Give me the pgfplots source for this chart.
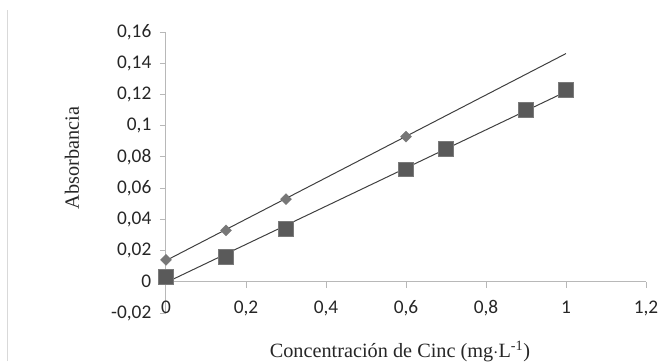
\documentclass[border=0pt]{standalone}
\usepackage{fontspec}
\setmainfont{Liberation Serif}
\newfontfamily\carlito{Carlito}
\usepackage{pgfplots}
\pgfplotsset{compat=1.18}
\definecolor{axgray}{HTML}{B8B8B8}
\definecolor{sqfill}{HTML}{5A5A5A}
\definecolor{sqdraw}{HTML}{7A7A7A}
\definecolor{dmfill}{HTML}{777777}
\definecolor{trend}{HTML}{404040}
\newcommand\tickfont{\fontsize{14.5pt}{17pt}\selectfont\carlito}
\begin{document}
\begin{tikzpicture}
\path[use as bounding box] (-124.5pt,-36pt) rectangle (370.5pt,234.75pt);
\draw[color=black!15, line width=0.75pt] (-118.5pt,-36pt) -- (-118.5pt,227pt);
\begin{axis}[
  scale only axis,
  width=360pt, height=210.75pt,
  xmin=0, xmax=1.2, ymin=-0.02, ymax=0.16,
  axis x line=middle, axis y line=left,
  hide obscured x ticks=false,
  hide obscured y ticks=false,
  axis line style={axgray, line width=0.75pt, -},
  xtick={0,0.2,0.4,0.6,0.8,1,1.2},
  ytick={-0.02,0,0.02,0.04,0.06,0.08,0.1,0.12,0.14,0.16},
  tick style={axgray, line width=0.75pt},
  major tick length=4.5pt,
  tick align=outside,
  minor tick num=0,
  /pgf/number format/assume math mode=true,
  /pgf/number format/use comma,
  /pgf/number format/fixed,
  /pgf/number format/precision=2,
  xticklabel={\tickfont\pgfmathprintnumber{\tick}},
  yticklabel={\tickfont\pgfmathprintnumber{\tick}},
  every tick label/.append style={text=black!85},
  yticklabel style={anchor=east, xshift=-3pt},
  xticklabel style={anchor=base, yshift=-19pt},
  xlabel={Concentración de Cinc (mg$\cdot$L\textsuperscript{-1})},
  ylabel={Absorbancia},
  label style={font=\fontsize{15.2pt}{18pt}\selectfont, text=black!85},
  xlabel style={at={(axis description cs:0.4875,-0.1566)}, anchor=base},
  ylabel style={at={(axis description cs:-0.196,0.552)}, anchor=center, rotate=0},
  clip=false,
]
\addplot[only marks, mark=square*, mark size=2.9pt, mark options={rotate=45, fill=dmfill, draw=dmfill, line width=0.3pt}]
  coordinates {(0,0.014) (0.15,0.033) (0.3,0.053) (0.6,0.093)};
\addplot[only marks, mark=square*, mark size=5.4pt, mark options={fill=sqfill, draw=sqdraw, line width=0.6pt}]
  coordinates {(0,0.003) (0.15,0.016) (0.3,0.034) (0.6,0.072) (0.7,0.085) (0.9,0.110) (1,0.123)};
\addplot[trend, line width=0.75pt] coordinates {(0,0.0136) (1,0.1462)};
\addplot[trend, line width=0.75pt] coordinates {(0,-0.0005) (1,0.1218)};
\end{axis}
\end{tikzpicture}
\end{document}
